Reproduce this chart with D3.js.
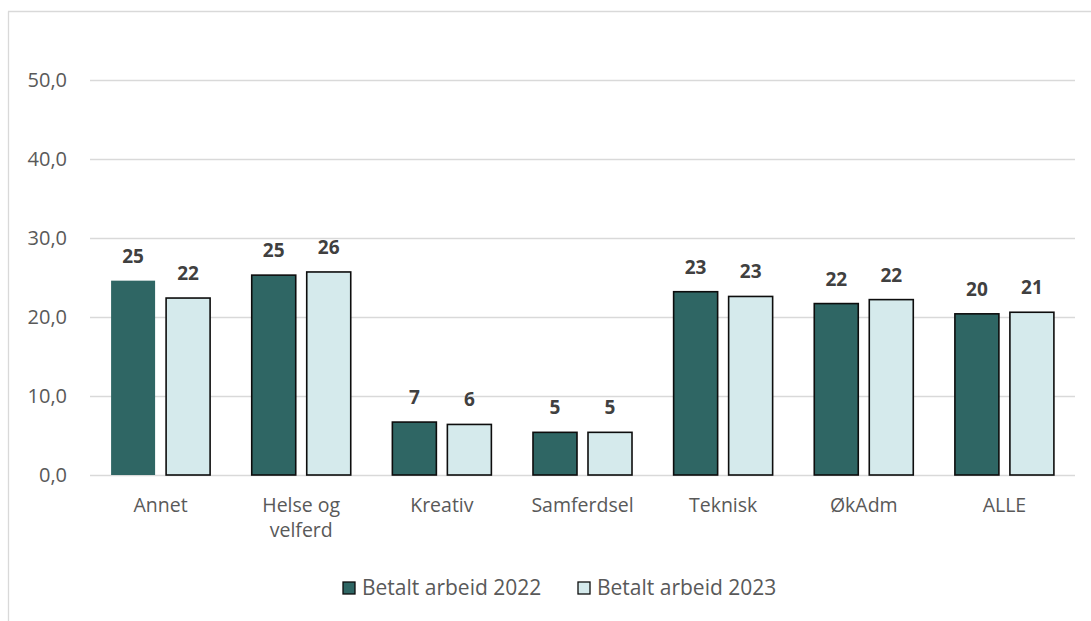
<!DOCTYPE html>
<html><head><meta charset="utf-8">
<script src="https://cdn.jsdelivr.net/npm/d3@7"></script>
<style>body{margin:0;background:#fff}svg{display:block}</style>
</head><body>
<svg id="c" width="1091" height="621"></svg>
<script>
const categories = ["Annet", "Helse og velferd", "Kreativ", "Samferdsel", "Teknisk", "ØkAdm", "ALLE"];
const categoryLines = [["Annet"], ["Helse og", "velferd"], ["Kreativ"], ["Samferdsel"], ["Teknisk"], ["ØkAdm"], ["ALLE"]];
const seriesNames = ["Betalt arbeid 2022", "Betalt arbeid 2023"];
const values2022 = [24.6, 25.3, 6.7, 5.4, 23.2, 21.7, 20.4];
const values2023 = [22.4, 25.7, 6.4, 5.4, 22.6, 22.2, 20.6];
const yTicks = [0, 10, 20, 30, 40, 50];
const colors = ["#2f6664", "#d5eaec"];

const svg = d3.select("#c");
const font = "'Open Sans', sans-serif";
const m = {left: 90, right: 1075, top: 80, bottom: 475};

// frame
svg.append("line").attr("x1", 8.5).attr("x2", 8.5).attr("y1", 11.5).attr("y2", 621).attr("stroke", "#d9d9d9").attr("stroke-width", 1.3);
svg.append("line").attr("x1", 8).attr("x2", 1091).attr("y1", 11.5).attr("y2", 11.5).attr("stroke", "#d9d9d9").attr("stroke-width", 1.3);

const x = d3.scaleBand().domain(categories).range([m.left, m.right]).paddingInner(0.296).paddingOuter(0.15);
const x1 = d3.scaleBand().domain([0, 1]).range([0, x.bandwidth()]).paddingInner(0.2);
const y = d3.scaleLinear().domain([0, 50]).range([m.bottom, m.top]);

// grid
const yAxis = d3.axisLeft(y).tickValues(yTicks).tickSize(-(m.right - m.left)).tickPadding(23)
  .tickFormat(d => d3.format(".1f")(d).replace(".", ","));
const ga = svg.append("g").attr("transform", `translate(${m.left},0)`).call(yAxis);
ga.select(".domain").remove();
ga.selectAll(".tick line").attr("stroke", "#d9d9d9").attr("stroke-width", 1.3);
ga.selectAll(".tick text").attr("font-family", font).attr("font-size", 20).attr("fill", "#595959");

const series = [values2022, values2023];
const g = svg.append("g");
categories.forEach((c, i) => {
  series.forEach((vals, s) => {
    const bx = x(c) + x1(s);
    const v = vals[i];
    const noBorder = (i === 0 && s === 0);
    g.append("rect")
      .attr("x", bx).attr("y", y(v))
      .attr("width", x1.bandwidth()).attr("height", y(0) - y(v))
      .attr("fill", colors[s])
      .attr("stroke", noBorder ? "none" : "#0d0d0d")
      .attr("stroke-width", 1.6);
    g.append("text")
      .attr("x", bx + x1.bandwidth() / 2).attr("y", y(v) - 18)
      .attr("text-anchor", "middle")
      .attr("font-family", font).attr("font-size", 19).attr("font-weight", "bold")
      .attr("fill", "#404040")
      .text(d3.format(".0f")(v));
  });
  const t = svg.append("text")
    .attr("x", x(c) + x.bandwidth() / 2).attr("y", 512)
    .attr("text-anchor", "middle")
    .attr("font-family", font).attr("font-size", 19.5).attr("fill", "#595959");
  categoryLines[i].forEach((ln, k) => {
    t.append("tspan").attr("x", x(c) + x.bandwidth() / 2).attr("dy", k === 0 ? 0 : 25).text(ln);
  });
});

// legend
const legX = [343, 578];
seriesNames.forEach((n, s) => {
  svg.append("rect").attr("x", legX[s]).attr("y", 582).attr("width", 12).attr("height", 12)
    .attr("fill", colors[s]).attr("stroke", "#0d0d0d").attr("stroke-width", 1.3);
  svg.append("text").attr("x", legX[s] + 19).attr("y", 595)
    .attr("font-family", font).attr("font-size", 21).attr("fill", "#595959").text(n);
});
</script>
</body></html>
